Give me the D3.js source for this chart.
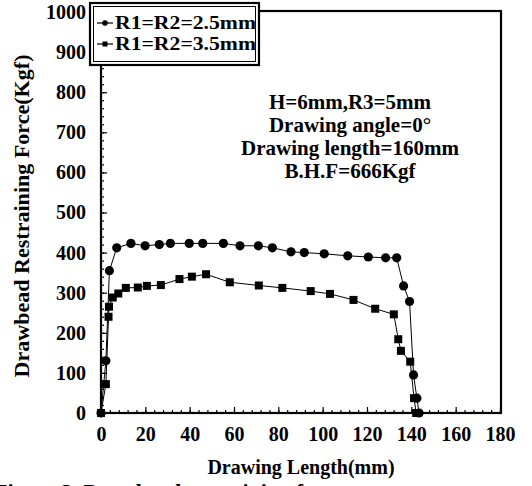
<!DOCTYPE html>
<html>
<head>
<meta charset="utf-8">
<script src="https://cdn.jsdelivr.net/npm/d3@7"></script>
<style>
  body { margin: 0; background: #fff; }
  text { font-family: "Liberation Serif", "Times New Roman", serif; font-weight: bold; fill: #000; }
</style>
</head>
<body>
<div id="chart"></div>
<script>
// drawing length (mm) / restraining force (Kgf)
const lengthR25 = [0, 2.2, 3.8, 7.1, 13.5, 19.9, 26.3, 31.3, 39.8, 45.9, 55.2, 62.7, 71, 77.3, 85.7, 91.7, 100.7, 111.3, 120.6, 128.4, 133.4, 136.5, 139.2, 141, 142.5, 143.5];
const forceR25  = [0, 130, 355, 412, 423, 417, 420, 423, 423, 423, 423, 417, 417, 412, 402, 400, 397, 392, 389, 387, 387, 317, 278, 95, 37, 0];

const lengthR35 = [0, 2.2, 3.4, 3.6, 5.3, 7.8, 11.2, 16.6, 20.7, 27, 35.4, 41, 47.4, 58.1, 71.2, 81.8, 94.6, 103.3, 113.9, 123.7, 132.1, 134.1, 135.3, 139.5, 141.2, 142.2];
const forceR35  = [0, 72, 240, 265, 288, 298, 312, 313, 317, 319, 334, 340, 346, 326, 318, 312, 304, 297, 282, 260, 246, 184, 155, 128, 37, 0];

const seriesNames = ["R1=R2=2.5mm", "R1=R2=3.5mm"];
const xTicks = [0, 20, 40, 60, 80, 100, 120, 140, 160, 180];
const yTicks = [0, 100, 200, 300, 400, 500, 600, 700, 800, 900, 1000];
const notes = ["H=6mm,R3=5mm", "Drawing angle=0°", "Drawing length=160mm", "B.H.F=666Kgf"];

const width = 532;
const height = 486;

const svg = d3.select("#chart")
  .append("svg")
  .attr("width", width)
  .attr("height", height);

svg.append("rect").attr("width", width).attr("height", height).attr("fill", "#fff");

const x = d3.scaleLinear().domain([0, 180]).range([101, 500]);
const y = d3.scaleLinear().domain([0, 1000]).range([413, 12]);

// minor ticks
svg.append("g")
  .attr("transform", `translate(0, ${y(0)})`)
  .call(d3.axisBottom(x).tickValues(d3.range(0, 181, 4)).tickSize(-3).tickFormat(""))
  .call(g => g.select(".domain").remove());

svg.append("g")
  .attr("transform", `translate(${x(0)}, 0)`)
  .call(d3.axisLeft(y).tickValues(d3.range(0, 1001, 20)).tickSize(-3).tickFormat(""))
  .call(g => g.select(".domain").remove());

// major ticks + labels
const xAxis = svg.append("g")
  .attr("transform", `translate(0, ${y(0)})`)
  .call(d3.axisBottom(x).tickValues(xTicks).tickFormat(d3.format("d")).tickSize(-6).tickPadding(14))
  .call(g => g.select(".domain").remove());
xAxis.selectAll("text").style("font-size", "20px");

const yAxis = svg.append("g")
  .attr("transform", `translate(${x(0)}, 0)`)
  .call(d3.axisLeft(y).tickValues(yTicks).tickFormat(d3.format("d")).tickSize(-6).tickPadding(15))
  .call(g => g.select(".domain").remove());
yAxis.selectAll("text").style("font-size", "20px");

svg.selectAll(".tick line").attr("stroke", "#000").attr("stroke-width", 1.2);

// frame
svg.append("rect")
  .attr("x", x(0))
  .attr("y", y(1000) - 1)
  .attr("width", x(180) - x(0) + 1)
  .attr("height", y(0) - y(1000) + 1)
  .attr("fill", "none")
  .attr("stroke", "#000")
  .attr("stroke-width", 2.2);

const series = [
  { name: seriesNames[0], xs: lengthR25, ys: forceR25, shape: "circle" },
  { name: seriesNames[1], xs: lengthR35, ys: forceR35, shape: "square" }
];

const line = d3.line().x(d => x(d[0])).y(d => y(d[1]));

series.forEach(s => {
  const pts = s.xs.map((v, i) => [v, s.ys[i]]);

  svg.append("path")
    .datum(pts)
    .attr("d", line)
    .attr("fill", "none")
    .attr("stroke", "#000")
    .attr("stroke-width", 1);

  const g = svg.append("g");
  if (s.shape === "circle") {
    g.selectAll("circle")
      .data(pts)
      .enter()
      .append("circle")
      .attr("cx", d => x(d[0]))
      .attr("cy", d => y(d[1]))
      .attr("r", 4.6)
      .attr("fill", "#000");
  } else {
    g.selectAll("rect")
      .data(pts)
      .enter()
      .append("rect")
      .attr("x", d => x(d[0]) - 4)
      .attr("y", d => y(d[1]) - 4)
      .attr("width", 8)
      .attr("height", 8)
      .attr("fill", "#000");
  }
});

// legend, double border
const legend = svg.append("g");
legend.append("rect")
  .attr("x", 90).attr("y", 3).attr("width", 169).attr("height", 62)
  .attr("fill", "#fff").attr("stroke", "#000").attr("stroke-width", 2.2);
legend.append("rect")
  .attr("x", 93.5).attr("y", 6.5).attr("width", 162).attr("height", 55)
  .attr("fill", "none").attr("stroke", "#000").attr("stroke-width", 1);

series.forEach((s, i) => {
  const ly = 23 + i * 21;
  legend.append("line")
    .attr("x1", 97).attr("x2", 113)
    .attr("y1", ly).attr("y2", ly)
    .attr("stroke", "#000").attr("stroke-width", 1.2);
  if (s.shape === "circle") {
    legend.append("circle").attr("cx", 105).attr("cy", ly).attr("r", 2.8).attr("fill", "#000");
  } else {
    legend.append("rect").attr("x", 102.5).attr("y", ly - 2.5).attr("width", 5).attr("height", 5).attr("fill", "#000");
  }
  legend.append("text")
    .attr("x", 115)
    .attr("y", ly + 6)
    .attr("textLength", 141)
    .attr("lengthAdjust", "spacingAndGlyphs")
    .style("font-size", "18px")
    .text(s.name);
});

// test conditions
svg.append("g")
  .selectAll("text")
  .data(notes)
  .enter()
  .append("text")
  .attr("x", 350)
  .attr("y", (d, i) => 109 + i * 23)
  .attr("text-anchor", "middle")
  .style("font-size", "21px")
  .text(d => d);

// axis titles
svg.append("text")
  .attr("x", 301)
  .attr("y", 474)
  .attr("text-anchor", "middle")
  .style("font-size", "20px")
  .text("Drawing Length(mm)");

svg.append("text")
  .attr("transform", "translate(29, 216) rotate(-90)")
  .attr("text-anchor", "middle")
  .attr("textLength", 323)
  .attr("lengthAdjust", "spacingAndGlyphs")
  .style("font-size", "20px")
  .text("Drawbead Restraining Force(Kgf)");

// caption, cut off at the bottom edge
svg.append("text")
  .attr("x", -6)
  .attr("y", 499)
  .style("font-size", "22px")
  .text("Figure 3. Drawbead restraining force");
</script>
</body>
</html>
